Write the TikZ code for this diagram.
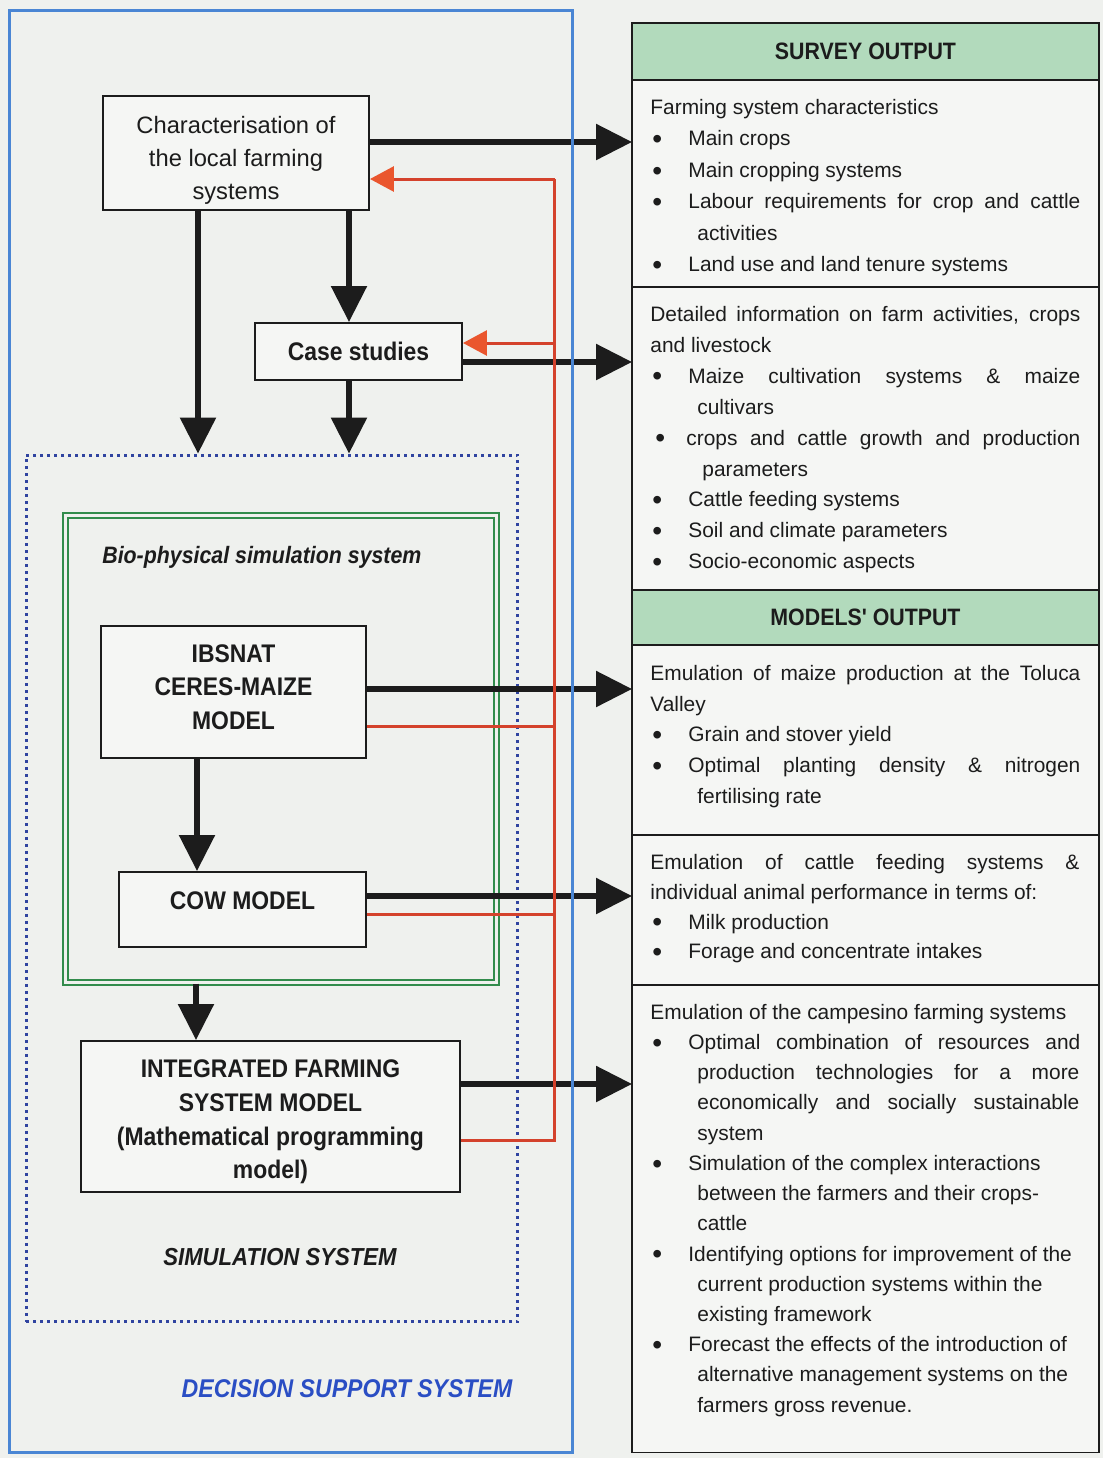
\documentclass[tikz,border=0pt]{standalone}
\usepackage{xcolor}
\usepackage{fontspec}
\usepackage{tikz}
\usetikzlibrary{arrows.meta, positioning, calc}
\setmainfont{Liberation Sans}
\newfontfamily\narrowsf[FakeStretch=0.9]{Liberation Sans}
\definecolor{paper}{RGB}{239, 241, 238}
\definecolor{boxfill}{RGB}{245, 246, 244}
\definecolor{headgreen}{RGB}{178, 218, 188}
\definecolor{biogreen}{RGB}{50, 140, 76}
\definecolor{dssblue}{RGB}{74, 134, 212}
\definecolor{dsstext}{RGB}{42, 78, 196}
\definecolor{simblue}{RGB}{48, 68, 160}
\definecolor{feedred}{RGB}{212, 66, 44}
\definecolor{feedhead}{RGB}{234, 86, 46}
\definecolor{darkline}{RGB}{28, 28, 28}
\newlength{\pxl}
\setlength{\pxl}{0.02cm}
\newcommand{\jus}[2]{\makebox[#1\pxl][s]{#2}}
\newcommand{\bitem}{\makebox[38\pxl][l]{\hspace{2\pxl}\raisebox{-1.5pt}{\fontsize{16}{16}\selectfont\textbullet}}}
\newcommand{\cont}{\hspace*{47\pxl}}

\begin{document}
\begin{tikzpicture}[x=0.02cm, y=-0.02cm]
\tikzstyle{modelbox} = [rectangle, draw=darkline, line width=0.04cm, fill=boxfill, text centered, align=center, text=darkline, font=\narrowsf\bfseries\fontsize{14.5}{19}\selectfont]
\tikzstyle{outbox} = [rectangle, draw=darkline, line width=0.03cm, fill=boxfill, minimum width=9.34cm, inner sep=0pt, outer sep=0pt]
\tikzstyle{headbox} = [outbox, fill=headgreen, text=darkline, font=\narrowsf\bfseries\fontsize{13.5}{16}\selectfont]
\tikzstyle{outtext} = [inner sep=0pt, align=left, text=darkline, font=\fontsize{11.9}{17.5}\selectfont]
\tikzstyle{syslabel} = [inner sep=0pt, text=darkline, font=\narrowsf\bfseries\itshape\fontsize{14}{17}\selectfont]
\tikzstyle{bigarrow} = [draw=darkline, line width=0.11cm, -{Triangle[length=0.72cm, width=0.7cm]}]
\tikzstyle{feed} = [draw=feedred, line width=0.06cm]
\tikzstyle{feedarrow} = [feed, -{Triangle[length=0.48cm, width=0.5cm, color=feedhead]}]

\useasboundingbox (0,0) rectangle (1103,1458);
\fill[paper] (0,0) rectangle (1103,1458);

\node[rectangle, draw=simblue, line width=0.06cm, dash pattern=on 0.06cm off 0.08cm, minimum width=9.84cm, minimum height=17.34cm] (simbox) at (272,888.5) {};
\node[rectangle, draw=biogreen, line width=0.045cm, double=paper, double distance=0.06cm, minimum width=8.62cm, minimum height=9.34cm] (bio) at (281,749) {};
\node[syslabel, font=\narrowsf\bfseries\itshape\fontsize{13.5}{16}\selectfont, anchor=west] (biolabel) at (102,557) {Bio-physical simulation system};
\node[syslabel] (simlabel) at (280,1257) {SIMULATION SYSTEM};
\node[syslabel, text=dsstext, font=\narrowsf\bfseries\itshape\fontsize{14.6}{17}\selectfont] (dsslabel) at (347,1389) {DECISION SUPPORT SYSTEM};

\node[modelbox, font=\fontsize{13.5}{18.7}\selectfont, minimum width=5.32cm, minimum height=2.24cm] (char) at (236,153) {\rule{0pt}{18pt}Characterisation of\\the local farming\\systems};
\node[modelbox, minimum width=4.14cm, minimum height=1.14cm] (case) at (358.5,351.5) {Case studies};
\node[modelbox, minimum width=5.30cm, minimum height=2.64cm] (ibsnat) at (233.5,692) {IBSNAT\\CERES-MAIZE\\MODEL\rule[-5.6pt]{0pt}{5.6pt}};
\node[modelbox, minimum width=4.94cm, minimum height=1.5cm, text height=8pt, text depth=8pt] (cow) at (242.5,909.5) {COW MODEL};
\node[modelbox, font=\narrowsf\bfseries\fontsize{14.5}{19.3}\selectfont, minimum width=7.58cm, minimum height=3.02cm] (integ) at (270.5,1116.5) {\rule{0pt}{16.2pt}INTEGRATED FARMING\\SYSTEM MODEL\\(Mathematical programming\\model)};

\node[headbox, minimum height=1.14cm] (survey) at (865.5,51.5) {SURVEY OUTPUT};
\node[outbox, minimum height=4.14cm, below=0pt of survey] (out1) {};
\node[outbox, minimum height=6.06cm, below=0pt of out1] (out2) {};
\node[headbox, minimum height=1.1cm, below=0pt of out2] (models) {MODELS' OUTPUT};
\node[outbox, minimum height=3.8cm, below=0pt of models] (out3) {};
\node[outbox, minimum height=3cm, below=0pt of out3] (out4) {};
\node[outbox, minimum height=9.36cm, below=0pt of out4] (out5) {};

\node[outtext, font=\fontsize{11.9}{17.9}\selectfont, below right=0.38cm and 0.36cm of out1.north west] (list1) {Farming system characteristics\\
\bitem Main crops\\
\bitem Main cropping systems\\
\bitem \jus{392}{Labour requirements for crop and cattle}\\
\cont activities\\
\bitem Land use and land tenure systems};
\node[outtext, font=\fontsize{11.9}{17.6}\selectfont, below right=0.38cm and 0.36cm of out2.north west] (list2) {\jus{430}{Detailed information on farm activities, crops}\\
and livestock\\
\bitem \jus{392}{Maize cultivation systems \& maize}\\
\cont cultivars\\
\makebox[36\pxl][l]{\hspace{5\pxl}\raisebox{-1.5pt}{\fontsize{16}{16}\selectfont\textbullet}}\jus{394}{crops and cattle growth and production}\\
\hspace*{52\pxl}parameters\\
\bitem Cattle feeding systems\\
\bitem Soil and climate parameters\\
\bitem Socio-economic aspects};
\node[outtext, font=\fontsize{11.9}{17.5}\selectfont, below right=0.4cm and 0.36cm of out3.north west] (list3) {\jus{430}{Emulation of maize production at the Toluca}\\
Valley\\
\bitem Grain and stover yield\\
\bitem \jus{392}{Optimal planting density \& nitrogen}\\
\cont fertilising rate};
\node[outtext, font=\fontsize{11.9}{17}\selectfont, below right=0.38cm and 0.36cm of out4.north west] (list4) {\jus{429}{Emulation of cattle feeding systems \&}\\
individual animal performance in terms of:\\
\bitem Milk production\\
\bitem Forage and concentrate intakes};
\node[outtext, font=\fontsize{11.9}{17.2}\selectfont, below right=0.38cm and 0.36cm of out5.north west] (list5) {Emulation of the campesino farming systems\\
\bitem \jus{392}{Optimal combination of resources and}\\
\cont \jus{382}{production technologies for a more}\\
\cont \jus{382}{economically and socially sustainable}\\
\cont system\\
\bitem Simulation of the complex interactions\\
\cont between the farmers and their crops-\\
\cont cattle\\
\bitem Identifying options for improvement of the\\
\cont current production systems within the\\
\cont existing framework\\
\bitem Forecast the effects of the introduction of\\
\cont alternative management systems on the\\
\cont farmers gross revenue.};

\coordinate (charout) at ($(char.east)+(0,-11)$);
\coordinate (caseout) at ($(case.east)+(0,10.5)$);
\coordinate (ibsout) at ($(ibsnat.east)+(0,-3)$);
\coordinate (cowout) at ($(cow.east)+(0,-13.5)$);
\coordinate (integout) at ($(integ.east)+(0,-32.5)$);
\coordinate (chardown) at ($(char.south)+(-38,0)$);
\coordinate (charcase) at ($(char.south)+(113,0)$);
\coordinate (casedown) at ($(case.south)+(-9.5,0)$);
\coordinate (ibsdown) at ($(ibsnat.south)+(-36.5,0)$);
\coordinate (biodown) at ($(bio.south)+(-85,0)$);

\draw[bigarrow] (charout) -- (charout -| out1.west);
\draw[bigarrow] (caseout) -- (caseout -| out2.west);
\draw[bigarrow] (ibsout) -- (ibsout -| out3.west);
\draw[bigarrow] (cowout) -- (cowout -| out4.west);
\draw[bigarrow] (integout) -- (integout -| out5.west);
\draw[bigarrow] (chardown) -- (chardown |- simbox.north);
\draw[bigarrow] (charcase) -- (charcase |- case.north);
\draw[bigarrow] (casedown) -- (casedown |- simbox.north);
\draw[bigarrow] (ibsdown) -- (ibsdown |- cow.north);
\draw[bigarrow] (biodown) -- (biodown |- integ.north);

\coordinate (charin) at ($(char.east)+(0,26)$);
\coordinate (bus) at ($(charin)+(185,0)$);
\coordinate (casein) at ($(case.east)+(0,-8.5)$);
\coordinate (ibsred) at ($(ibsnat.east)+(0,34)$);
\coordinate (cowred) at ($(cow.east)+(0,4.5)$);
\coordinate (integred) at ($(integ.east)+(0,23.5)$);

\draw[feed] (integred) -| (bus);
\draw[feed] (ibsred) -- (ibsred -| bus);
\draw[feed] (cowred) -- (cowred -| bus);
\draw[feedarrow] (bus) -- (charin);
\draw[feedarrow] (casein -| bus) -- (casein);

\node[rectangle, draw=dssblue, line width=0.06cm, minimum width=11.28cm, minimum height=28.86cm] (dss) at (291,731.5) {};
\end{tikzpicture}
\end{document}
